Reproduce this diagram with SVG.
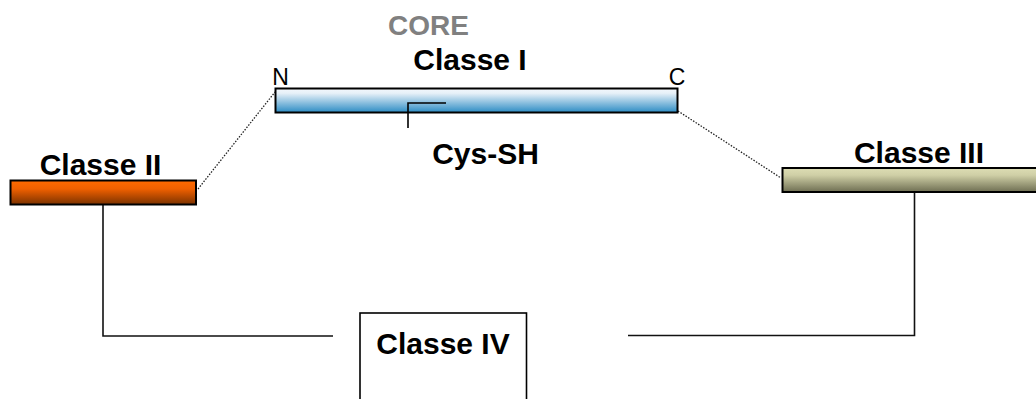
<svg xmlns="http://www.w3.org/2000/svg" width="1036" height="399" viewBox="0 0 1036 399">
  <style>
    .lbl { font-family: "Liberation Sans", Arial, sans-serif; font-weight: bold; font-size: 30px; fill: #000; text-anchor: middle; }
    .term { font-family: "Liberation Sans", Arial, sans-serif; font-size: 23px; fill: #000; text-anchor: middle; }
    .core { font-family: "Liberation Sans", Arial, sans-serif; font-weight: bold; font-size: 28px; fill: #808080; text-anchor: middle; }
    .bar { stroke: #000; stroke-width: 2; }
    .wire { fill: none; stroke: #111; stroke-width: 1.6; }
    .dots { fill: none; stroke: #222; stroke-width: 1.3; stroke-dasharray: 1.5 1.5; }
  </style>
  <defs>
    <linearGradient id="gBlue" x1="0" y1="0" x2="0" y2="1">
      <stop offset="0" stop-color="#F4F8FC"/>
      <stop offset="0.2" stop-color="#E6F0F8"/>
      <stop offset="1" stop-color="#2C8CC4"/>
    </linearGradient>
    <linearGradient id="gOrange" x1="0" y1="0" x2="0" y2="1">
      <stop offset="0" stop-color="#FF6A00"/>
      <stop offset="0.35" stop-color="#F06000"/>
      <stop offset="1" stop-color="#7A3200"/>
    </linearGradient>
    <linearGradient id="gOlive" x1="0" y1="0" x2="0" y2="1">
      <stop offset="0" stop-color="#DDDDB4"/>
      <stop offset="0.3" stop-color="#CFCFA6"/>
      <stop offset="1" stop-color="#6E6E52"/>
    </linearGradient>
  </defs>

  <g id="connectors">
    <!-- flexible linkers joining the core to the flanking domains -->
    <path class="dots" d="M198,189 L275,92"/>
    <path class="dots" d="M678,111 L781,178"/>
    <!-- lines leading down to Classe IV -->
    <path class="wire" d="M103,204 L103,336 L333,336"/>
    <path class="wire" d="M628,335.5 L914.5,335.5 L914.5,192"/>
  </g>

  <g id="core">
    <text class="core" x="428.5" y="35">CORE</text>
  </g>

  <g id="classe-1">
    <text class="lbl" x="470" y="70">Classe I</text>
    <rect class="bar" x="275.5" y="88.5" width="402" height="24" fill="url(#gBlue)"/>
    <text class="term" x="280.5" y="85">N</text>
    <text class="term" x="677" y="85">C</text>
    <path d="M408,128 L408,103 L446,103" fill="none" stroke="#000" stroke-width="1.6"/>
    <text class="lbl" x="485.5" y="164">Cys-SH</text>
  </g>

  <g id="classe-2">
    <text class="lbl" x="100.5" y="175">Classe II</text>
    <rect class="bar" x="10.5" y="180.5" width="185.5" height="24" fill="url(#gOrange)"/>
  </g>

  <g id="classe-3">
    <text class="lbl" x="919" y="163">Classe III</text>
    <rect class="bar" x="782.5" y="168" width="260" height="24" fill="url(#gOlive)"/>
  </g>

  <g id="classe-4">
    <rect x="360" y="313" width="166.5" height="100" fill="#fff" stroke="#000" stroke-width="1.6"/>
    <text class="lbl" x="443" y="354">Classe IV</text>
  </g>
</svg>
